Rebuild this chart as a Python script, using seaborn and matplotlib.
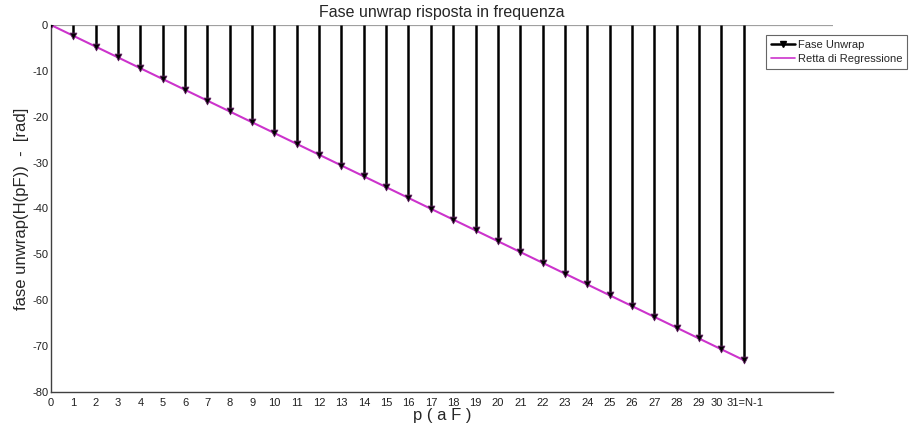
import numpy as np
import pandas as pd
import matplotlib
matplotlib.use("Agg")
import matplotlib.pyplot as plt
import matplotlib.transforms as mtransforms
from matplotlib.lines import Line2D
import seaborn as sns

# Unwrapped phase samples of the frequency response, p = 0 .. N-1 (N = 32)
p_values = list(range(32))
phase_unwrap = [0.00, -2.36, -4.71, -7.07, -9.42, -11.78, -14.14, -16.49,
                -18.85, -21.21, -23.56, -25.92, -28.27, -30.63, -32.99, -35.34,
                -37.70, -40.06, -42.41, -44.77, -47.12, -49.48, -51.84, -54.19,
                -56.55, -58.90, -61.26, -63.62, -65.97, -68.33, -70.69, -73.04]
x_tick_labels = [str(i) for i in range(31)] + ["31=N-1", "", "", "", ""]
y_ticks = [0, -10, -20, -30, -40, -50, -60, -70, -80]

sns.set_theme(style="white")
plt.rcParams["font.family"] = ["Liberation Sans", "DejaVu Sans"]

df = pd.DataFrame({"p": p_values, "phase": phase_unwrap})
slope, intercept = np.polyfit(df["p"], df["phase"], 1)
df["fit"] = slope * df["p"] + intercept

fig = plt.figure(figsize=(9.10, 4.28), dpi=100)
ax = fig.add_axes([51 / 910, 1 - 392 / 428, (833 - 51) / 910, (392 - 25) / 428])

# zero baseline across the axis
ax.axhline(0, color="#a0a0a0", lw=1.6, zorder=1)

# stems
ax.vlines(df["p"], 0, df["phase"], color="black", lw=1.8, zorder=2)

# regression line
sns.lineplot(data=df, x="p", y="fit", ax=ax, color="#cc33cc", lw=1.5,
             zorder=3, legend=False)

# stem heads
sns.scatterplot(data=df, x="p", y="phase", ax=ax, marker="v", s=24,
                color="black", edgecolor="#602060", linewidth=0.6, zorder=4,
                legend=False)

ax.set_xlim(0, 35)
ax.set_ylim(-80, 0)
ax.set_xticks(range(36))
ax.set_xticklabels(x_tick_labels, fontsize=8)
ax.set_yticks(y_ticks)
ax.set_yticklabels([str(v) for v in y_ticks], fontsize=8)
ax.tick_params(axis="both", direction="in", length=6, width=0.8,
               color="#404040", labelcolor="#202020")
ax.tick_params(axis="x", pad=4)
ax.tick_params(axis="y", pad=2)
for side in ("top", "right"):
    ax.spines[side].set_visible(False)
for side in ("left", "bottom"):
    ax.spines[side].set_color("#404040")
    ax.spines[side].set_linewidth(1.0)

# keep the "30" and "31=N-1" labels side by side
xlabels = ax.get_xticklabels()
xlabels[30].set_transform(xlabels[30].get_transform()
                          + mtransforms.ScaledTranslation(-5 / 100, 0, fig.dpi_scale_trans))
xlabels[31].set_transform(xlabels[31].get_transform()
                          + mtransforms.ScaledTranslation(1 / 100, 0, fig.dpi_scale_trans))

ax.set_title("Fase unwrap risposta in frequenza", fontsize=11.5, pad=6)
ax.set_xlabel("p ( a F )", fontsize=12, labelpad=0)
ax.set_ylabel("fase unwrap(H(pF))  -  [rad]", fontsize=12, labelpad=2)

handles = [
    Line2D([0], [0], color="black", lw=1.8, marker="v", markersize=5,
           markevery=[1], markerfacecolor="black"),
    Line2D([0], [0], color="#cc33cc", lw=1.2),
]
leg = fig.legend(handles, ["Fase Unwrap", "Retta di Regressione"],
                 loc="upper left", bbox_to_anchor=(766 / 910, 1 - 35 / 428),
                 fontsize=8, frameon=True, fancybox=False, borderpad=0.45,
                 handlelength=2.2, handletextpad=0.2, labelspacing=0.35,
                 borderaxespad=0)
leg.get_frame().set_edgecolor("#404040")
leg.get_frame().set_linewidth(0.8)

fig.savefig("out.png", dpi=100)
